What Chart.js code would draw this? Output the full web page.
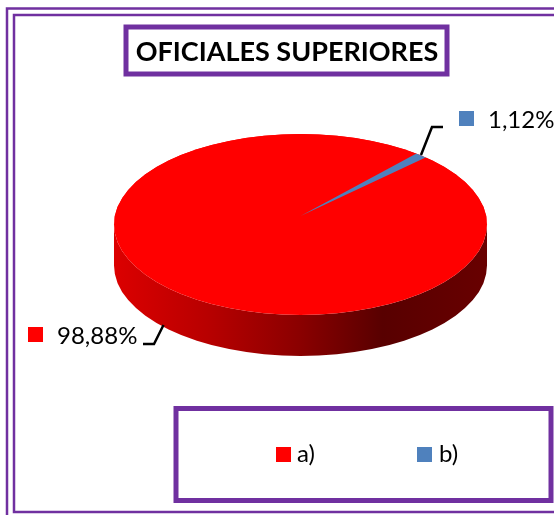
<!DOCTYPE html>
<html><head><meta charset="utf-8">
<style>html,body{margin:0;padding:0;background:#fff}#w{position:relative;width:554px;height:515px}</style>
<script src="https://cdn.jsdelivr.net/npm/chart.js@4"></script>
</head><body><div id="w"><canvas id="c" width="554" height="515"></canvas></div>
<script>
const categories = ['a)', 'b)'];
const values = [98.88, 1.12];
const valueLabels = ['98,88%', '1,12%'];
const colors = ['#ff0000', '#4f81bd'];
const titleText = 'OFICIALES SUPERIORES';
const PURPLE = '#7030a0';
const SQUASH = 0.485, DEPTH = 41, LIFT = 8.5;
const FONT = 'Lato, "Open Sans", sans-serif';

const frame = {
  id: 'frame',
  beforeDraw(chart) {
    const c = chart.ctx;
    c.save();
    c.fillStyle = '#fff'; c.fillRect(0, 0, 554, 515);
    c.strokeStyle = PURPLE;
    c.lineWidth = 2.5; c.strokeRect(7, 8.5, 600, 600);
    c.strokeRect(14, 15, 600, 497);
    c.lineWidth = 5;
    c.strokeRect(126, 27, 321, 47);
    c.strokeRect(176, 408.5, 375, 92);
    c.restore();
  }
};

const pie3d = {
  id: 'pie3d',
  beforeDatasetsDraw(chart) {
    const c = chart.ctx, arc = chart.getDatasetMeta(0).data[0];
    const x = arc.x, y = arc.y, r = arc.outerRadius, ry = r * SQUASH;
    const g = c.createLinearGradient(x - r, 0, x + r, 0);
    g.addColorStop(0, '#dc0000'); g.addColorStop(0.25, '#b80000');
    g.addColorStop(0.5, '#8a0000'); g.addColorStop(0.72, '#580000'); g.addColorStop(1, '#680000');
    c.save();
    c.fillStyle = g;
    c.beginPath();
    c.ellipse(x, y, r, ry, 0, 0, Math.PI);
    c.ellipse(x, y + DEPTH, r, ry, 0, Math.PI, 0, true);
    c.closePath();
    c.fill();
    c.fillStyle = colors[0];
    c.beginPath();
    c.ellipse(x, y, r, ry, 0, 0, Math.PI * 2);
    c.fill();
    c.restore();
    c.save();
    c.beginPath();
    c.ellipse(x, y, r, ry, 0, 0, Math.PI * 2);
    c.clip();
    c.translate(x, y - LIFT); c.scale(1, SQUASH); c.translate(-x, -y);
  },
  afterDatasetsDraw(chart) { chart.ctx.restore(); }
};

function leader(c, pts) {
  c.save(); c.strokeStyle = '#000'; c.lineWidth = 2.5; c.beginPath();
  pts.forEach((p, i) => i ? c.lineTo(p[0], p[1]) : c.moveTo(p[0], p[1]));
  c.stroke(); c.restore();
}

const texts = {
  id: 'texts',
  afterDraw(chart) {
    const c = chart.ctx;
    c.save();
    leader(c, [[163.5, 325], [154, 344], [143, 344]]);
    leader(c, [[421, 155], [432, 127], [443, 127]]);
    c.textBaseline = 'middle'; c.textAlign = 'center';
    c.fillStyle = '#000';
    c.font = 'bold 27px Lato, sans-serif';
    c.fillText(titleText, 287, 52);
    c.textAlign = 'left'; c.font = '24px ' + FONT;
    const dl = [[28, 327, 57, 336], [459, 111, 488, 120]];
    const lg = [[276, 447, 297], [417, 447, 439]];
    categories.forEach((t, i) => {
      c.fillStyle = colors[i];
      c.fillRect(dl[i][0], dl[i][1], 15, 15);
      c.fillRect(lg[i][0], lg[i][1], 15, 15);
      c.fillStyle = '#000';
      c.fillText(valueLabels[i], dl[i][2], dl[i][3]);
      c.fillText(t, lg[i][2], 454);
    });
    c.restore();
  }
};

new Chart(document.getElementById('c'), {
  type: 'pie',
  data: { labels: categories, datasets: [{ data: values, backgroundColor: colors, borderWidth: 0 }] },
  options: {
    responsive: false, animation: false, rotation: 46,
    layout: { padding: { left: 114, right: 67, top: 38, bottom: 104 } },
    plugins: { tooltip: { enabled: false }, title: { display: false }, legend: { display: false } }
  },
  plugins: [frame, pie3d, texts]
});
</script></body></html>
